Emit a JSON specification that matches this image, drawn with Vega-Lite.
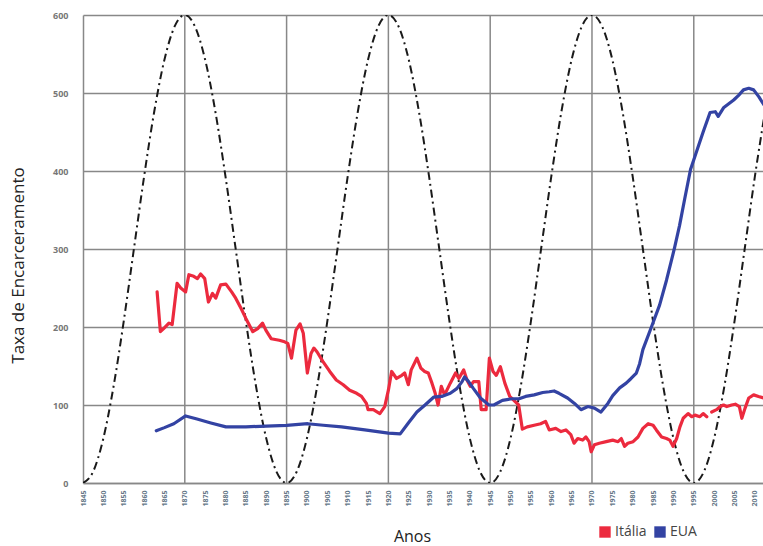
{
  "$schema": "https://vega.github.io/schema/vega-lite/v6.json",
  "autosize": "none",
  "width": 680,
  "height": 468,
  "padding": {"left": 83, "top": 15, "right": 0, "bottom": 63},
  "background": "white",
  "config": {"view": {"stroke": null}, "font": "Open Sans", "axisX": {"labelOverlap": false, "labelSeparation": -20}},
  "datasets": {
    "grid": [{"ano": 1870}, {"ano": 1895}, {"ano": 1920}, {"ano": 1945}, {"ano": 1970}, {"ano": 1995}],
    "wave": [
      {"ano": 1845, "v": 0}, {"ano": 1847.5, "v": 14.7}, {"ano": 1850, "v": 57.3}, {"ano": 1852.5, "v": 123.7}, {"ano": 1855, "v": 207.3}, {"ano": 1857.5, "v": 300}, {"ano": 1860, "v": 392.7}, {"ano": 1862.5, "v": 476.3}, {"ano": 1865, "v": 542.7}, {"ano": 1867.5, "v": 585.3}, {"ano": 1870, "v": 600}, {"ano": 1872.5, "v": 585.3}, {"ano": 1875, "v": 542.7}, {"ano": 1877.5, "v": 476.3}, {"ano": 1880, "v": 392.7}, {"ano": 1882.5, "v": 300}, {"ano": 1885, "v": 207.3}, {"ano": 1887.5, "v": 123.7}, {"ano": 1890, "v": 57.3}, {"ano": 1892.5, "v": 14.7},
      {"ano": 1895, "v": 0}, {"ano": 1897.5, "v": 14.7}, {"ano": 1900, "v": 57.3}, {"ano": 1902.5, "v": 123.7}, {"ano": 1905, "v": 207.3}, {"ano": 1907.5, "v": 300}, {"ano": 1910, "v": 392.7}, {"ano": 1912.5, "v": 476.3}, {"ano": 1915, "v": 542.7}, {"ano": 1917.5, "v": 585.3}, {"ano": 1920, "v": 600}, {"ano": 1922.5, "v": 585.3}, {"ano": 1925, "v": 542.7}, {"ano": 1927.5, "v": 476.3}, {"ano": 1930, "v": 392.7}, {"ano": 1932.5, "v": 300}, {"ano": 1935, "v": 207.3}, {"ano": 1937.5, "v": 123.7}, {"ano": 1940, "v": 57.3}, {"ano": 1942.5, "v": 14.7},
      {"ano": 1945, "v": 0}, {"ano": 1947.5, "v": 14.7}, {"ano": 1950, "v": 57.3}, {"ano": 1952.5, "v": 123.7}, {"ano": 1955, "v": 207.3}, {"ano": 1957.5, "v": 300}, {"ano": 1960, "v": 392.7}, {"ano": 1962.5, "v": 476.3}, {"ano": 1965, "v": 542.7}, {"ano": 1967.5, "v": 585.3}, {"ano": 1970, "v": 600}, {"ano": 1972.5, "v": 585.3}, {"ano": 1975, "v": 542.7}, {"ano": 1977.5, "v": 476.3}, {"ano": 1980, "v": 392.7}, {"ano": 1982.5, "v": 300}, {"ano": 1985, "v": 207.3}, {"ano": 1987.5, "v": 123.7}, {"ano": 1990, "v": 57.3}, {"ano": 1992.5, "v": 14.7},
      {"ano": 1995, "v": 0}, {"ano": 1997.5, "v": 14.7}, {"ano": 2000, "v": 57.3}, {"ano": 2002.5, "v": 123.7}, {"ano": 2005, "v": 207.3}, {"ano": 2007.5, "v": 300}, {"ano": 2010, "v": 392.7}, {"ano": 2012.5, "v": 476.3}
    ],
    "series": [
      {"pais": "Itália", "ano": 1863.2, "taxa": 245}, {"pais": "Itália", "ano": 1864.0, "taxa": 194}, {"pais": "Itália", "ano": 1864.8, "taxa": 198}, {"pais": "Itália", "ano": 1866.1, "taxa": 205}, {"pais": "Itália", "ano": 1866.9, "taxa": 203}, {"pais": "Itália", "ano": 1868.1, "taxa": 256}, {"pais": "Itália", "ano": 1869.0, "taxa": 250}, {"pais": "Itália", "ano": 1870.2, "taxa": 245}, {"pais": "Itália", "ano": 1871.0, "taxa": 267}, {"pais": "Itália", "ano": 1872.2, "taxa": 265}, {"pais": "Itália", "ano": 1873.1, "taxa": 262}, {"pais": "Itália", "ano": 1873.9, "taxa": 268}, {"pais": "Itália", "ano": 1874.9, "taxa": 262}, {"pais": "Itália", "ano": 1875.8, "taxa": 232}, {"pais": "Itália", "ano": 1876.8, "taxa": 243}, {"pais": "Itália", "ano": 1877.6, "taxa": 237}, {"pais": "Itália", "ano": 1878.8, "taxa": 254}, {"pais": "Itália", "ano": 1880.1, "taxa": 255}, {"pais": "Itália", "ano": 1881.5, "taxa": 245}, {"pais": "Itália", "ano": 1882.5, "taxa": 237}, {"pais": "Itália", "ano": 1883.8, "taxa": 224}, {"pais": "Itália", "ano": 1885.0, "taxa": 211}, {"pais": "Itália", "ano": 1886.7, "taxa": 194}, {"pais": "Itália", "ano": 1887.9, "taxa": 198}, {"pais": "Itália", "ano": 1889.1, "taxa": 205}, {"pais": "Itália", "ano": 1889.9, "taxa": 196}, {"pais": "Itália", "ano": 1891.2, "taxa": 185}, {"pais": "Itália", "ano": 1893.2, "taxa": 183}, {"pais": "Itália", "ano": 1894.5, "taxa": 181}, {"pais": "Itália", "ano": 1895.3, "taxa": 179}, {"pais": "Itália", "ano": 1896.2, "taxa": 160}, {"pais": "Itália", "ano": 1897.3, "taxa": 196}, {"pais": "Itália", "ano": 1898.3, "taxa": 204}, {"pais": "Itália", "ano": 1899.1, "taxa": 192}, {"pais": "Itália", "ano": 1900.1, "taxa": 141}, {"pais": "Itália", "ano": 1901.0, "taxa": 166}, {"pais": "Itália", "ano": 1901.7, "taxa": 173}, {"pais": "Itália", "ano": 1902.5, "taxa": 168}, {"pais": "Itália", "ano": 1903.9, "taxa": 156}, {"pais": "Itália", "ano": 1905.6, "taxa": 143}, {"pais": "Itália", "ano": 1907.2, "taxa": 132}, {"pais": "Itália", "ano": 1908.9, "taxa": 126}, {"pais": "Itália", "ano": 1910.5, "taxa": 119}, {"pais": "Itália", "ano": 1912.2, "taxa": 115}, {"pais": "Itália", "ano": 1913.4, "taxa": 111}, {"pais": "Itália", "ano": 1914.6, "taxa": 102}, {"pais": "Itália", "ano": 1915.0, "taxa": 94}, {"pais": "Itália", "ano": 1916.3, "taxa": 94}, {"pais": "Itália", "ano": 1917.9, "taxa": 89}, {"pais": "Itália", "ano": 1919.1, "taxa": 98}, {"pais": "Itália", "ano": 1920.0, "taxa": 119}, {"pais": "Itália", "ano": 1920.8, "taxa": 143}, {"pais": "Itália", "ano": 1922.0, "taxa": 134}, {"pais": "Itália", "ano": 1923.3, "taxa": 138}, {"pais": "Itália", "ano": 1924.0, "taxa": 141}, {"pais": "Itália", "ano": 1924.9, "taxa": 126}, {"pais": "Itália", "ano": 1925.6, "taxa": 145}, {"pais": "Itália", "ano": 1927.0, "taxa": 160}, {"pais": "Itália", "ano": 1928.0, "taxa": 147}, {"pais": "Itália", "ano": 1928.9, "taxa": 143}, {"pais": "Itália", "ano": 1929.8, "taxa": 141}, {"pais": "Itália", "ano": 1930.7, "taxa": 128}, {"pais": "Itália", "ano": 1931.5, "taxa": 115}, {"pais": "Itália", "ano": 1932.2, "taxa": 100}, {"pais": "Itália", "ano": 1933.0, "taxa": 124}, {"pais": "Itália", "ano": 1933.8, "taxa": 113}, {"pais": "Itália", "ano": 1935.2, "taxa": 128}, {"pais": "Itália", "ano": 1936.5, "taxa": 141}, {"pais": "Itália", "ano": 1937.3, "taxa": 134}, {"pais": "Itália", "ano": 1938.5, "taxa": 145}, {"pais": "Itália", "ano": 1939.3, "taxa": 132}, {"pais": "Itália", "ano": 1940.1, "taxa": 124}, {"pais": "Itália", "ano": 1940.9, "taxa": 130}, {"pais": "Itália", "ano": 1942.2, "taxa": 130}, {"pais": "Itália", "ano": 1942.8, "taxa": 94}, {"pais": "Itália", "ano": 1944.0, "taxa": 94}, {"pais": "Itália", "ano": 1944.8, "taxa": 160}, {"pais": "Itália", "ano": 1945.7, "taxa": 143}, {"pais": "Itália", "ano": 1946.5, "taxa": 138}, {"pais": "Itália", "ano": 1947.5, "taxa": 149}, {"pais": "Itália", "ano": 1948.6, "taxa": 128}, {"pais": "Itália", "ano": 1949.8, "taxa": 111}, {"pais": "Itália", "ano": 1951.2, "taxa": 104}, {"pais": "Itália", "ano": 1952.0, "taxa": 100}, {"pais": "Itália", "ano": 1952.9, "taxa": 69}, {"pais": "Itália", "ano": 1954.1, "taxa": 72}, {"pais": "Itália", "ano": 1955.8, "taxa": 74}, {"pais": "Itália", "ano": 1957.4, "taxa": 76}, {"pais": "Itália", "ano": 1958.6, "taxa": 79}, {"pais": "Itália", "ano": 1959.5, "taxa": 68}, {"pais": "Itália", "ano": 1961.1, "taxa": 70}, {"pais": "Itália", "ano": 1962.4, "taxa": 66}, {"pais": "Itália", "ano": 1963.6, "taxa": 68}, {"pais": "Itália", "ano": 1964.8, "taxa": 62}, {"pais": "Itália", "ano": 1965.6, "taxa": 51}, {"pais": "Itália", "ano": 1966.5, "taxa": 57}, {"pais": "Itália", "ano": 1967.7, "taxa": 55}, {"pais": "Itália", "ano": 1968.5, "taxa": 59}, {"pais": "Itália", "ano": 1969.3, "taxa": 53}, {"pais": "Itália", "ano": 1969.8, "taxa": 40}, {"pais": "Itália", "ano": 1970.6, "taxa": 49}, {"pais": "Itália", "ano": 1971.8, "taxa": 51}, {"pais": "Itália", "ano": 1973.5, "taxa": 53}, {"pais": "Itália", "ano": 1975.1, "taxa": 55}, {"pais": "Itália", "ano": 1976.4, "taxa": 53}, {"pais": "Itália", "ano": 1977.2, "taxa": 57}, {"pais": "Itália", "ano": 1978.0, "taxa": 47}, {"pais": "Itália", "ano": 1978.8, "taxa": 51}, {"pais": "Itália", "ano": 1980.1, "taxa": 53}, {"pais": "Itália", "ano": 1981.3, "taxa": 59}, {"pais": "Itália", "ano": 1982.5, "taxa": 70}, {"pais": "Itália", "ano": 1983.8, "taxa": 76}, {"pais": "Itália", "ano": 1985.0, "taxa": 74}, {"pais": "Itália", "ano": 1985.8, "taxa": 68}, {"pais": "Itália", "ano": 1987.1, "taxa": 59}, {"pais": "Itália", "ano": 1988.3, "taxa": 57}, {"pais": "Itália", "ano": 1989.1, "taxa": 55}, {"pais": "Itália", "ano": 1989.9, "taxa": 47}, {"pais": "Itália", "ano": 1990.8, "taxa": 57}, {"pais": "Itália", "ano": 1991.6, "taxa": 72}, {"pais": "Itália", "ano": 1992.4, "taxa": 83}, {"pais": "Itália", "ano": 1993.6, "taxa": 89}, {"pais": "Itália", "ano": 1994.5, "taxa": 85}, {"pais": "Itália", "ano": 1995.3, "taxa": 87}, {"pais": "Itália", "ano": 1996.5, "taxa": 85}, {"pais": "Itália", "ano": 1997.3, "taxa": 89}, {"pais": "Itália", "ano": 1998.2, "taxa": 85}, {"pais": "Itália", "ano": 1998.8, "taxa": null}, {"pais": "Itália", "ano": 1999.4, "taxa": 91}, {"pais": "Itália", "ano": 2000.6, "taxa": 94}, {"pais": "Itália", "ano": 2001.5, "taxa": 98}, {"pais": "Itália", "ano": 2002.3, "taxa": 100}, {"pais": "Itália", "ano": 2003.1, "taxa": 98}, {"pais": "Itália", "ano": 2004.3, "taxa": 100}, {"pais": "Itália", "ano": 2005.2, "taxa": 101}, {"pais": "Itália", "ano": 2006.2, "taxa": 98}, {"pais": "Itália", "ano": 2006.8, "taxa": 83}, {"pais": "Itália", "ano": 2007.6, "taxa": 96}, {"pais": "Itália", "ano": 2008.5, "taxa": 109}, {"pais": "Itália", "ano": 2009.7, "taxa": 113}, {"pais": "Itália", "ano": 2010.9, "taxa": 111}, {"pais": "Itália", "ano": 2012.2, "taxa": 109},
      {"pais": "EUA", "ano": 1863.0, "taxa": 67}, {"pais": "EUA", "ano": 1865.0, "taxa": 71}, {"pais": "EUA", "ano": 1867.3, "taxa": 76}, {"pais": "EUA", "ano": 1870.2, "taxa": 86}, {"pais": "EUA", "ano": 1873.0, "taxa": 82}, {"pais": "EUA", "ano": 1876.4, "taxa": 77}, {"pais": "EUA", "ano": 1880.1, "taxa": 72}, {"pais": "EUA", "ano": 1885, "taxa": 72}, {"pais": "EUA", "ano": 1890, "taxa": 73}, {"pais": "EUA", "ano": 1895, "taxa": 74}, {"pais": "EUA", "ano": 1900.2, "taxa": 76}, {"pais": "EUA", "ano": 1904, "taxa": 74}, {"pais": "EUA", "ano": 1908.5, "taxa": 72}, {"pais": "EUA", "ano": 1914.2, "taxa": 68}, {"pais": "EUA", "ano": 1920.0, "taxa": 64}, {"pais": "EUA", "ano": 1922.9, "taxa": 63}, {"pais": "EUA", "ano": 1924.9, "taxa": 77}, {"pais": "EUA", "ano": 1927, "taxa": 91}, {"pais": "EUA", "ano": 1929, "taxa": 100}, {"pais": "EUA", "ano": 1931.1, "taxa": 110}, {"pais": "EUA", "ano": 1933.1, "taxa": 111}, {"pais": "EUA", "ano": 1935.2, "taxa": 115}, {"pais": "EUA", "ano": 1936.8, "taxa": 121}, {"pais": "EUA", "ano": 1938.1, "taxa": 130}, {"pais": "EUA", "ano": 1938.7, "taxa": 136}, {"pais": "EUA", "ano": 1939.7, "taxa": 130}, {"pais": "EUA", "ano": 1940.9, "taxa": 121}, {"pais": "EUA", "ano": 1942.6, "taxa": 109}, {"pais": "EUA", "ano": 1944.7, "taxa": 100}, {"pais": "EUA", "ano": 1945.9, "taxa": 100}, {"pais": "EUA", "ano": 1948, "taxa": 106}, {"pais": "EUA", "ano": 1950.4, "taxa": 108}, {"pais": "EUA", "ano": 1952.1, "taxa": 108}, {"pais": "EUA", "ano": 1953.7, "taxa": 111}, {"pais": "EUA", "ano": 1955.8, "taxa": 113}, {"pais": "EUA", "ano": 1957.9, "taxa": 116}, {"pais": "EUA", "ano": 1959.5, "taxa": 117}, {"pais": "EUA", "ano": 1960.7, "taxa": 118}, {"pais": "EUA", "ano": 1961.9, "taxa": 115}, {"pais": "EUA", "ano": 1964, "taxa": 109}, {"pais": "EUA", "ano": 1965.7, "taxa": 102}, {"pais": "EUA", "ano": 1967.3, "taxa": 94}, {"pais": "EUA", "ano": 1969, "taxa": 98}, {"pais": "EUA", "ano": 1970.6, "taxa": 96}, {"pais": "EUA", "ano": 1972.2, "taxa": 91}, {"pais": "EUA", "ano": 1973.9, "taxa": 102}, {"pais": "EUA", "ano": 1975.1, "taxa": 112}, {"pais": "EUA", "ano": 1976.8, "taxa": 122}, {"pais": "EUA", "ano": 1978.4, "taxa": 128}, {"pais": "EUA", "ano": 1979.6, "taxa": 134}, {"pais": "EUA", "ano": 1980.9, "taxa": 141}, {"pais": "EUA", "ano": 1981.7, "taxa": 153}, {"pais": "EUA", "ano": 1982.5, "taxa": 171}, {"pais": "EUA", "ano": 1984.6, "taxa": 200}, {"pais": "EUA", "ano": 1986.6, "taxa": 228}, {"pais": "EUA", "ano": 1988.3, "taxa": 260}, {"pais": "EUA", "ano": 1989.5, "taxa": 285}, {"pais": "EUA", "ano": 1990.3, "taxa": 302}, {"pais": "EUA", "ano": 1991.5, "taxa": 330}, {"pais": "EUA", "ano": 1992.8, "taxa": 365}, {"pais": "EUA", "ano": 1994.2, "taxa": 402}, {"pais": "EUA", "ano": 1995.5, "taxa": 422}, {"pais": "EUA", "ano": 1997.3, "taxa": 450}, {"pais": "EUA", "ano": 1999, "taxa": 475}, {"pais": "EUA", "ano": 2000.3, "taxa": 476}, {"pais": "EUA", "ano": 2001, "taxa": 470}, {"pais": "EUA", "ano": 2002.3, "taxa": 481}, {"pais": "EUA", "ano": 2004.8, "taxa": 491}, {"pais": "EUA", "ano": 2006, "taxa": 497}, {"pais": "EUA", "ano": 2007.2, "taxa": 504}, {"pais": "EUA", "ano": 2008.5, "taxa": 506}, {"pais": "EUA", "ano": 2009.7, "taxa": 504}, {"pais": "EUA", "ano": 2011, "taxa": 495}, {"pais": "EUA", "ano": 2012.2, "taxa": 485}
    ]
  },
  "encoding": {
    "x": {"field": "ano", "type": "quantitative", "scale": {"domain": [1845, 2012], "nice": false, "zero": false},
      "axis": {"values": [1845,1850,1855,1860,1865,1870,1875,1880,1885,1890,1895,1900,1905,1910,1915,1920,1925,1930,1935,1940,1945,1950,1955,1960,1965,1970,1975,1980,1985,1990,1995,2000,2005,2010],
        "format": "d", "labelAngle": -90, "labelFontSize": 7, "labelFontWeight": "bold", "labelColor": "#667788", "labelPadding": 7, "labelBaseline": "middle", "labelAlign": "right", "labelOverlap": false, "labelBound": false,
        "ticks": false, "grid": false, "domainColor": "#888888", "domainWidth": 1.5,
        "title": "Anos", "titleFontSize": 16, "titleFontWeight": "normal", "titleColor": "#222222", "titleX": 329, "titleY": 53, "titleBaseline": "middle", "titleAlign": "center", "titleFont": "Open Sans"}}
  },
  "layer": [
    {
      "data": {"name": "grid"},
      "mark": {"type": "rule", "color": "#888888", "strokeWidth": 1.5},
      "encoding": {}
    },
    {
      "data": {"name": "wave"},
      "mark": {"type": "line", "color": "#1a1a1a", "strokeWidth": 2, "strokeDash": [8, 4, 2, 4], "interpolate": "monotone", "clip": true},
      "encoding": {
        "y": {"field": "v", "type": "quantitative", "scale": {"domain": [0, 600], "nice": false},
          "axis": {"values": [0, 100, 200, 300, 400, 500, 600], "grid": true, "gridColor": "#888888", "gridWidth": 1.5, "gridOpacity": 1,
            "ticks": false, "domainColor": "#888888", "domainWidth": 1.5, "labelFontSize": 9, "labelFontWeight": "bold", "labelColor": "#777777", "labelPadding": 15,
            "title": "Taxa de Encarceramento", "titleFontSize": 17, "titleFontWeight": "normal", "titleColor": "#222222", "titleFont": "Open Sans", "titleX": -65, "titleY": 250, "titleAngle": -90, "titleBaseline": "middle", "titleAlign": "center"}}
      }
    },
    {
      "data": {"name": "series"},
      "mark": {"type": "line", "strokeWidth": 3.2, "clip": true, "strokeJoin": "round", "strokeCap": "round"},
      "encoding": {
        "y": {"field": "taxa", "type": "quantitative"},
        "color": {"field": "pais", "type": "nominal", "scale": {"domain": ["Itália", "EUA"], "range": ["#EC2A3E", "#3343A3"]},
          "legend": {"title": null, "orient": "none", "legendX": 515, "legendY": 510, "direction": "horizontal", "symbolType": "square", "symbolSize": 130, "symbolStrokeWidth": 0, "labelFontSize": 14, "labelColor": "#444444", "labelFont": "Open Sans", "columnPadding": 6, "labelOffset": 3,
            "encode": {"symbols": {"update": {"fill": {"scale": "color", "field": "value"}, "fillOpacity": {"value": 1}, "strokeWidth": {"value": 0}}}}}}
      }
    }
  ]
}
